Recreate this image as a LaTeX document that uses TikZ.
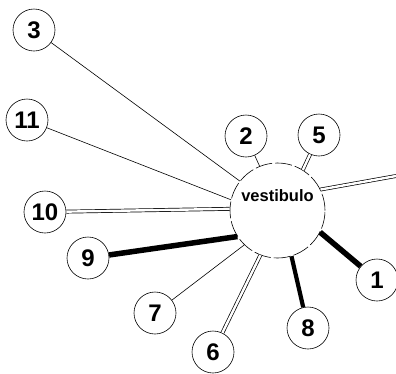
\documentclass[tikz,border=0pt]{standalone}
\usepackage{fontspec}
\setmainfont{Liberation Sans}
\usepackage{tikz}
\tikzset{
  room/.style={circle, draw, line width=0.6pt, minimum size=42pt, inner sep=0pt,
    font=\fontsize{24}{24}\selectfont\bfseries},
  hall/.style={circle, draw, line width=0.6pt, minimum size=95pt, inner sep=0pt,
    dash pattern=on 17pt off 3pt},
  simple/.style={line width=0.6pt},
  twin/.style={double, line width=0.7pt, double distance=2.4pt},
  heavy/.style={line width=5.5pt},
  medium/.style={line width=4.2pt}
}

\begin{document}
\begin{tikzpicture}[x=1pt, y=-1pt]
    \useasboundingbox (0,0) rectangle (396,373);

    % central room
    \node[hall, label={[yshift=15pt, font=\fontsize{16.5}{16.5}\selectfont\bfseries]center:vestibulo}] (vest) at (277.5,210.5) {};

    % surrounding rooms
    \foreach \n/\x/\y in {3/34/30, 11/27/120, 2/246/136, 5/319/135, 10/45/212,
                          9/88/258, 7/155/313, 6/213/352, 8/308/328, 1/377/280}
        \node[room] (r\n) at (\x,\y) {\n};
    \coordinate (rout) at (396,176);

    % links
    \draw[simple] (vest.142) -- (r3);
    \draw[simple] (vest.167) -- (r11);
    \draw[simple] (vest.112) -- (r2);
    \draw[twin]   (vest.58)  -- (r5);
    \draw[twin]   (vest.26)  -- (rout);
    \draw[twin]   (vest.178) -- (r10);
    \draw[heavy]  (vest.213) -- (r9);
    \draw[simple] (vest.226) -- (r7);
    \draw[twin]   (vest.249) -- (r6);
    \draw[medium] (vest.287) -- (r8);
    \draw[heavy]  (vest.333) -- (r1);
\end{tikzpicture}
\end{document}
